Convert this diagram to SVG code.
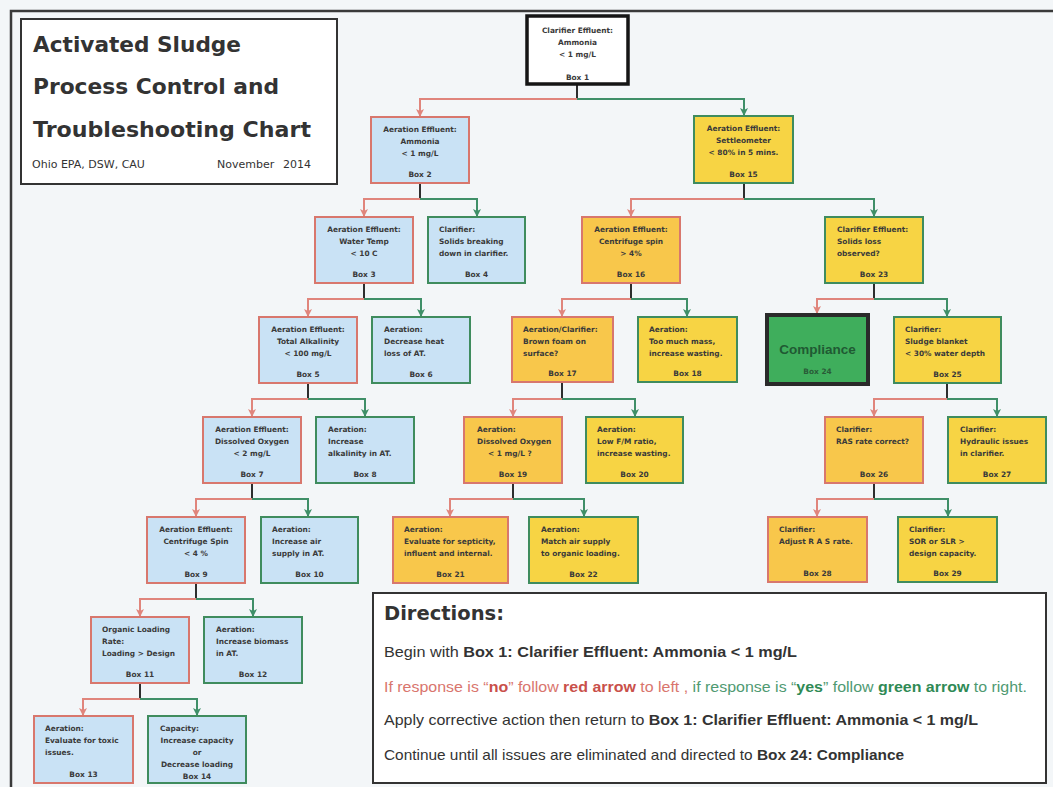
<svg xmlns="http://www.w3.org/2000/svg" width="1053" height="787" viewBox="0 0 1053 787">
<style>
.bx{stroke-width:2}
.r{stroke:#d8776d}
.g{stroke:#3f8c5e}
.b{fill:#c9e2f5}
.y{fill:#f7d444}
.o{fill:#f8c74b}
.t{font-family:'DejaVu Sans',sans-serif;font-weight:bold;font-size:7.4px;fill:#3a3a3a}
.c{text-anchor:middle}
.stem{stroke:#2e2e2e;stroke-width:2;fill:none}
.no{stroke:#e0857c;stroke-width:2;fill:none;marker-end:url(#ar)}
.yes{stroke:#3f8f68;stroke-width:2;fill:none;marker-end:url(#ag)}
.ttl{font-family:'DejaVu Sans',sans-serif;font-weight:bold;font-size:21.5px;fill:#333}
.sub{font-family:'DejaVu Sans',sans-serif;font-size:11px;fill:#333}
.dir{font-family:'Liberation Sans',Arial,sans-serif;font-size:15px;fill:#333}
.bd{font-weight:bold}
</style>
<defs>
<marker id="ar" markerUnits="userSpaceOnUse" markerWidth="9" markerHeight="9" refX="8" refY="4.5" orient="auto"><path d="M0,0.5 L8,4.5 L0,8.5 L2,4.5 z" fill="#e0857c"/></marker>
<marker id="ag" markerUnits="userSpaceOnUse" markerWidth="9" markerHeight="9" refX="8" refY="4.5" orient="auto"><path d="M0,0.5 L8,4.5 L0,8.5 L2,4.5 z" fill="#3f8f68"/></marker>
</defs>
<rect x="0" y="0" width="1053" height="787" fill="#f3f6f8"/>
<rect x="11" y="11" width="1060" height="800" fill="none" stroke="#3a3a3a" stroke-width="2.5"/>

<g id="title">
<rect x="21" y="19" width="316" height="165" fill="#fff" stroke="#333" stroke-width="2"/>
<text class="ttl" x="33" y="52" textLength="208" lengthAdjust="spacingAndGlyphs">Activated Sludge</text>
<text class="ttl" x="33" y="94" textLength="246" lengthAdjust="spacingAndGlyphs">Process Control and</text>
<text class="ttl" x="33" y="137" textLength="278" lengthAdjust="spacingAndGlyphs">Troubleshooting Chart</text>
<text class="sub" x="32" y="168">Ohio EPA, DSW, CAU</text>
<text class="sub" x="217" y="168">November</text>
<text class="sub" x="283" y="168">2014</text>
</g>

<g id="connectors">
<path class="stem" d="M577,84V99"/><path class="no" d="M577,99H420V117"/><path class="yes" d="M577,99H744V116"/>
<path class="stem" d="M420,183V199"/><path class="no" d="M420,199H364V217"/><path class="yes" d="M420,199H477V217"/>
<path class="stem" d="M744,183V199"/><path class="no" d="M744,199H631V217"/><path class="yes" d="M744,199H874V217"/>
<path class="stem" d="M364,283V299"/><path class="no" d="M364,299H308V317"/><path class="yes" d="M364,299H421V317"/>
<path class="stem" d="M631,283V299"/><path class="no" d="M631,299H562V317"/><path class="yes" d="M631,299H687V317"/>
<path class="stem" d="M874,283V299"/><path class="no" d="M874,299H817V314"/><path class="yes" d="M874,299H947V317"/>
<path class="stem" d="M308,383V399"/><path class="no" d="M308,399H252V417"/><path class="yes" d="M308,399H365V417"/>
<path class="stem" d="M562,382V399"/><path class="no" d="M562,399H513V417"/><path class="yes" d="M562,399H635V417"/>
<path class="stem" d="M947,383V399"/><path class="no" d="M947,399H874V417"/><path class="yes" d="M947,399H997V417"/>
<path class="stem" d="M252,483V499"/><path class="no" d="M252,499H196V517"/><path class="yes" d="M252,499H308V517"/>
<path class="stem" d="M513,483V499"/><path class="no" d="M513,499H450V517"/><path class="yes" d="M513,499H584V517"/>
<path class="stem" d="M874,483V499"/><path class="no" d="M874,499H817V517"/><path class="yes" d="M874,499H948V517"/>
<path class="stem" d="M196,583V599"/><path class="no" d="M196,599H140V617"/><path class="yes" d="M196,599H253V617"/>
<path class="stem" d="M140,683V699"/><path class="no" d="M140,699H83V716"/><path class="yes" d="M140,699H197V716"/>
</g>

<g id="box1">
<rect x="527" y="16" width="101" height="68" fill="#fff" stroke="#151515" stroke-width="3.5"/>
<text class="t c" x="577.5" y="33">Clarifier Effluent:</text>
<text class="t c" x="577.5" y="45">Ammonia</text>
<text class="t c" x="577.5" y="57">&lt; 1 mg/L</text>
<text class="t c" x="577.5" y="80">Box 1</text>
</g>
<g id="box2">
<rect class="bx r b" x="371" y="117" width="98" height="66"/>
<text class="t c" x="420" y="132">Aeration Effluent:</text>
<text class="t c" x="420" y="144">Ammonia</text>
<text class="t c" x="420" y="156">&lt; 1 mg/L</text>
<text class="t c" x="420" y="177">Box 2</text>
</g>
<g id="box15">
<rect class="bx g y" x="694" y="116" width="99" height="67"/>
<text class="t c" x="743.5" y="131">Aeration Effluent:</text>
<text class="t c" x="743.5" y="143">Settleometer</text>
<text class="t c" x="743.5" y="155">&lt; 80% in 5 mins.</text>
<text class="t c" x="743.5" y="177">Box 15</text>
</g>
<g id="box3">
<rect class="bx r b" x="315" y="217" width="98" height="66"/>
<text class="t c" x="364" y="232">Aeration Effluent:</text>
<text class="t c" x="364" y="244">Water Temp</text>
<text class="t c" x="364" y="256">&lt; 10 C</text>
<text class="t c" x="364" y="277">Box 3</text>
</g>
<g id="box4">
<rect class="bx g b" x="428" y="217" width="97" height="66"/>
<text class="t" x="439" y="232">Clarifier:</text>
<text class="t" x="439" y="244">Solids breaking</text>
<text class="t" x="439" y="256">down in clarifier.</text>
<text class="t c" x="476.5" y="277">Box 4</text>
</g>
<g id="box16">
<rect class="bx r o" x="582" y="217" width="98" height="66"/>
<text class="t c" x="631" y="232">Aeration Effluent:</text>
<text class="t c" x="631" y="244">Centrifuge spin</text>
<text class="t c" x="631" y="256">&gt; 4%</text>
<text class="t c" x="631" y="277">Box 16</text>
</g>
<g id="box23">
<rect class="bx g y" x="825" y="217" width="98" height="66"/>
<text class="t" x="837" y="232">Clarifier Effluent:</text>
<text class="t" x="837" y="244">Solids loss</text>
<text class="t" x="837" y="256">observed?</text>
<text class="t c" x="874" y="277">Box 23</text>
</g>
<g id="box5">
<rect class="bx r b" x="259" y="317" width="98" height="66"/>
<text class="t c" x="308" y="332">Aeration Effluent:</text>
<text class="t c" x="308" y="344">Total Alkalinity</text>
<text class="t c" x="308" y="356">&lt; 100 mg/L</text>
<text class="t c" x="308" y="377">Box 5</text>
</g>
<g id="box6">
<rect class="bx g b" x="372" y="317" width="98" height="66"/>
<text class="t" x="384" y="332">Aeration:</text>
<text class="t" x="384" y="344">Decrease heat</text>
<text class="t" x="384" y="356">loss of AT.</text>
<text class="t c" x="421" y="377">Box 6</text>
</g>
<g id="box17">
<rect class="bx r o" x="512" y="317" width="101" height="65"/>
<text class="t" x="523" y="332">Aeration/Clarifier:</text>
<text class="t" x="523" y="344">Brown foam on</text>
<text class="t" x="523" y="356">surface?</text>
<text class="t c" x="562.5" y="376">Box 17</text>
</g>
<g id="box18">
<rect class="bx g y" x="638" y="317" width="99" height="65"/>
<text class="t" x="649" y="332">Aeration:</text>
<text class="t" x="649" y="344">Too much mass,</text>
<text class="t" x="649" y="356">increase wasting.</text>
<text class="t c" x="687.5" y="376">Box 18</text>
</g>
<g id="box24">
<rect x="767" y="315" width="101" height="69" fill="#3fae5c" stroke="#2a2a2a" stroke-width="4"/>
<text x="817.5" y="354" text-anchor="middle" font-family="'Liberation Sans',Arial,sans-serif" font-weight="bold" font-size="13.5px" fill="#1f5a33">Compliance</text>
<text class="t c" x="817.5" y="374" style="fill:#2a5c38">Box 24</text>
</g>
<g id="box25">
<rect class="bx g y" x="894" y="317" width="107" height="66"/>
<text class="t" x="905" y="332">Clarifier:</text>
<text class="t" x="905" y="344">Sludge blanket</text>
<text class="t" x="905" y="356">&lt; 30% water depth</text>
<text class="t c" x="947.5" y="377">Box 25</text>
</g>
<g id="box7">
<rect class="bx r b" x="203" y="417" width="98" height="66"/>
<text class="t c" x="252" y="432">Aeration Effluent:</text>
<text class="t c" x="252" y="444">Dissolved Oxygen</text>
<text class="t c" x="252" y="456">&lt; 2 mg/L</text>
<text class="t c" x="252" y="477">Box 7</text>
</g>
<g id="box8">
<rect class="bx g b" x="316" y="417" width="98" height="66"/>
<text class="t" x="328" y="432">Aeration:</text>
<text class="t" x="328" y="444">Increase</text>
<text class="t" x="328" y="456">alkalinity in AT.</text>
<text class="t c" x="365" y="477">Box 8</text>
</g>
<g id="box19">
<rect class="bx r o" x="464" y="417" width="98" height="66"/>
<text class="t" x="477" y="432">Aeration:</text>
<text class="t" x="477" y="444">Dissolved Oxygen</text>
<text class="t" x="488" y="456">&lt; 1 mg/L ?</text>
<text class="t c" x="513" y="477">Box 19</text>
</g>
<g id="box20">
<rect class="bx g y" x="586" y="417" width="97" height="66"/>
<text class="t" x="597" y="432">Aeration:</text>
<text class="t" x="597" y="444">Low F/M ratio,</text>
<text class="t" x="597" y="456">increase wasting.</text>
<text class="t c" x="634.5" y="477">Box 20</text>
</g>
<g id="box26">
<rect class="bx r o" x="825" y="417" width="98" height="66"/>
<text class="t" x="836" y="432">Clarifier:</text>
<text class="t" x="836" y="444">RAS rate correct?</text>
<text class="t c" x="874" y="477">Box 26</text>
</g>
<g id="box27">
<rect class="bx g y" x="948" y="417" width="98" height="66"/>
<text class="t" x="960" y="432">Clarifier:</text>
<text class="t" x="960" y="444">Hydraulic issues</text>
<text class="t" x="960" y="456">in clarifier.</text>
<text class="t c" x="997" y="477">Box 27</text>
</g>
<g id="box9">
<rect class="bx r b" x="147" y="517" width="98" height="66"/>
<text class="t c" x="196" y="532">Aeration Effluent:</text>
<text class="t c" x="196" y="544">Centrifuge Spin</text>
<text class="t c" x="196" y="556">&lt; 4 %</text>
<text class="t c" x="196" y="577">Box 9</text>
</g>
<g id="box10">
<rect class="bx g b" x="261" y="517" width="97" height="66"/>
<text class="t" x="272" y="532">Aeration:</text>
<text class="t" x="272" y="544">Increase air</text>
<text class="t" x="272" y="556">supply in AT.</text>
<text class="t c" x="309.5" y="577">Box 10</text>
</g>
<g id="box21">
<rect class="bx r o" x="393" y="517" width="115" height="66"/>
<text class="t" x="404" y="532">Aeration:</text>
<text class="t" x="404" y="544">Evaluate for septicity,</text>
<text class="t" x="404" y="556">influent and internal.</text>
<text class="t c" x="450.5" y="577">Box 21</text>
</g>
<g id="box22">
<rect class="bx g y" x="529" y="517" width="109" height="66"/>
<text class="t" x="541" y="532">Aeration:</text>
<text class="t" x="541" y="544">Match air supply</text>
<text class="t" x="541" y="556">to organic loading.</text>
<text class="t c" x="583.5" y="577">Box 22</text>
</g>
<g id="box28">
<rect class="bx r o" x="768" y="517" width="99" height="65"/>
<text class="t" x="779" y="532">Clarifier:</text>
<text class="t" x="779" y="544">Adjust R A S rate.</text>
<text class="t c" x="817.5" y="576">Box 28</text>
</g>
<g id="box29">
<rect class="bx g y" x="898" y="517" width="99" height="65"/>
<text class="t" x="909" y="532">Clarifier:</text>
<text class="t" x="909" y="544">SOR or SLR &gt;</text>
<text class="t" x="909" y="556">design capacity.</text>
<text class="t c" x="947.5" y="576">Box 29</text>
</g>
<g id="box11">
<rect class="bx r b" x="91" y="617" width="98" height="66"/>
<text class="t" x="102" y="632">Organic Loading</text>
<text class="t" x="102" y="644">Rate:</text>
<text class="t" x="102" y="656">Loading &gt; Design</text>
<text class="t c" x="140" y="677">Box 11</text>
</g>
<g id="box12">
<rect class="bx g b" x="204" y="617" width="98" height="66"/>
<text class="t" x="216" y="632">Aeration:</text>
<text class="t" x="216" y="644">Increase biomass</text>
<text class="t" x="216" y="656">in AT.</text>
<text class="t c" x="253" y="677">Box 12</text>
</g>
<g id="box13">
<rect class="bx r b" x="34" y="716" width="99" height="67"/>
<text class="t" x="45" y="731">Aeration:</text>
<text class="t" x="45" y="743">Evaluate for toxic</text>
<text class="t" x="45" y="755">issues.</text>
<text class="t c" x="83.5" y="777">Box 13</text>
</g>
<g id="box14">
<rect class="bx g b" x="148" y="716" width="98" height="67"/>
<text class="t" x="160" y="731">Capacity:</text>
<text class="t c" x="197" y="743">Increase capacity</text>
<text class="t c" x="197" y="755">or</text>
<text class="t c" x="197" y="767">Decrease loading</text>
<text class="t c" x="197" y="779">Box 14</text>
</g>

<g id="directions">
<rect x="373" y="593" width="673" height="190" fill="#fff" stroke="#333" stroke-width="2"/>
<text x="384" y="620" font-family="'DejaVu Sans',sans-serif" font-weight="bold" font-size="19.5px" fill="#333">Directions:</text>
<text class="dir" x="384" y="657" textLength="413" lengthAdjust="spacingAndGlyphs">Begin with <tspan class="bd">Box 1: Clarifier Effluent: Ammonia &lt; 1 mg/L</tspan></text>
<text class="dir" x="384" y="692" textLength="643" lengthAdjust="spacingAndGlyphs"><tspan fill="#d9756d">If response is “</tspan><tspan class="bd" fill="#c9504a">no</tspan><tspan fill="#d9756d">” follow </tspan><tspan class="bd" fill="#c9504a">red arrow</tspan><tspan fill="#d9756d"> to left , </tspan><tspan fill="#4f9a72">if response is “</tspan><tspan class="bd" fill="#2f8a55">yes</tspan><tspan fill="#4f9a72">” follow </tspan><tspan class="bd" fill="#2f8a55">green arrow</tspan><tspan fill="#4f9a72"> to right.</tspan></text>
<text class="dir" x="384" y="725" textLength="594" lengthAdjust="spacingAndGlyphs">Apply corrective action then return to <tspan class="bd">Box 1: Clarifier Effluent: Ammonia &lt; 1 mg/L</tspan></text>
<text class="dir" x="384" y="760" textLength="520" lengthAdjust="spacingAndGlyphs">Continue until all issues are eliminated and directed to <tspan class="bd">Box 24: Compliance</tspan></text>
</g>
</svg>
